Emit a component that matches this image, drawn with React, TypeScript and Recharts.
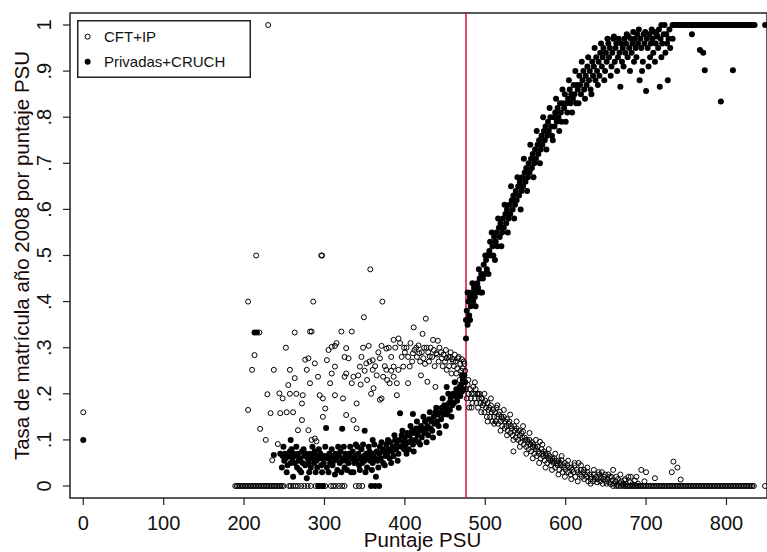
import React from 'react';
import { ScatterChart, Scatter, XAxis, YAxis, ReferenceLine, ReferenceArea, Legend } from 'recharts';

const FONT = '"Liberation Sans", Arial, sans-serif';

const xTicks = [0, 100, 200, 300, 400, 500, 600, 700, 800];
const yTicks = [0, 0.1, 0.2, 0.3, 0.4, 0.5, 0.6, 0.7, 0.8, 0.9, 1];
const yTickLabels = ['0', '.1', '.2', '.3', '.4', '.5', '.6', '.7', '.8', '.9', '1'];
const xDomain: [number, number] = [-16.5, 850.4];
const yDomain: [number, number] = [-0.026, 1.026];
const cutoff = 476;
const seriesNames = ['CFT+IP', 'Privadas+CRUCH'];
const xTitle = 'Puntaje PSU';
const yTitle = 'Tasa de matrícula año 2008 por puntaje PSU';

// CFT+IP (open circles)
const cftCloud: [number, number][] = [
  [0, 0.16], [205, 0.165], [205, 0.4], [210, 0.252], [213, 0.284], [215, 0.5], [219, 0.333], [220, 0.124],
  [227, 0.1], [229, 0.199], [230, 1.0], [233, 0.158], [235, 0.056], [237, 0.252], [242, 0.091], [244, 0.201],
  [245, 0.158], [248, 0.19], [252, 0.3], [253, 0.16], [255, 0.219], [257, 0.252], [257, 0.2], [261, 0.16],
  [263, 0.333], [263, 0.234], [265, 0.2], [267, 0.121], [272, 0.179], [272, 0.143], [273, 0.197], [276, 0.274],
  [278, 0.252], [280, 0.277], [280, 0.121], [282, 0.335], [282, 0.223], [284, 0.335], [284, 0.1], [286, 0.4],
  [288, 0.266], [288, 0.103], [290, 0.097], [292, 0.237], [294, 0.197], [296, 0.5], [297, 0.5], [298, 0.19],
  [298, 0.15], [301, 0.168], [303, 0.273], [305, 0.295], [307, 0.223], [309, 0.302], [309, 0.244], [313, 0.304],
  [313, 0.259], [313, 0.197], [315, 0.31], [321, 0.335], [323, 0.19], [325, 0.28], [325, 0.237], [327, 0.299],
  [327, 0.244], [327, 0.154], [330, 0.277], [334, 0.335], [334, 0.223], [336, 0.237], [336, 0.143], [340, 0.179],
  [340, 0.125], [342, 0.24], [344, 0.259], [345, 0.22], [346, 0.28], [348, 0.3], [349, 0.366], [350, 0.25],
  [352, 0.266], [353, 0.23], [355, 0.304], [356, 0.27], [357, 0.47], [358, 0.2], [360, 0.273], [360, 0.252],
  [361, 0.212], [363, 0.26], [365, 0.24], [367, 0.29], [369, 0.277], [369, 0.187], [371, 0.304], [371, 0.19],
  [372, 0.4], [373, 0.237], [375, 0.26], [377, 0.298], [377, 0.252], [378, 0.23], [380, 0.3], [381, 0.223],
  [383, 0.28], [383, 0.25], [386, 0.317], [386, 0.259], [386, 0.237], [388, 0.3], [390, 0.197], [390, 0.223],
  [392, 0.32], [392, 0.252], [394, 0.31], [396, 0.28], [398, 0.259], [399, 0.3], [400, 0.29], [402, 0.3],
  [404, 0.28], [404, 0.223], [406, 0.259], [407, 0.31], [409, 0.27], [410, 0.288], [411, 0.344], [412, 0.295],
  [414, 0.3], [415, 0.28], [417, 0.305], [418, 0.288], [419, 0.27], [420, 0.24], [421, 0.29], [422, 0.33],
  [423, 0.277], [424, 0.3], [425, 0.265], [426, 0.363], [427, 0.3], [428, 0.226], [429, 0.29], [430, 0.27],
  [431, 0.281], [432, 0.3], [434, 0.28], [435, 0.317], [436, 0.295], [437, 0.26], [438, 0.215], [439, 0.288],
  [440, 0.285], [441, 0.315], [442, 0.27], [443, 0.3], [445, 0.29], [446, 0.277], [447, 0.26], [448, 0.285],
  [450, 0.27], [451, 0.295], [452, 0.277], [452, 0.252], [454, 0.28], [455, 0.26], [456, 0.28], [457, 0.29],
  [458, 0.244], [459, 0.275], [460, 0.27], [461, 0.26], [462, 0.285], [463, 0.27], [464, 0.244], [465, 0.255],
  [466, 0.277], [467, 0.28], [468, 0.23], [469, 0.265], [470, 0.25], [471, 0.275], [472, 0.255], [473, 0.27],
  [474, 0.265], [475, 0.25],
];

const cftDecay: [number, number][] = [
  [476, 0.21], [477, 0.19], [478, 0.22], [479, 0.2], [480, 0.17], [481, 0.21], [482, 0.19], [483, 0.2],
  [484, 0.18], [485, 0.215], [486, 0.2], [487, 0.19], [488, 0.21], [489, 0.18], [490, 0.2], [491, 0.17],
  [492, 0.19], [493, 0.2], [494, 0.18], [495, 0.16], [496, 0.19], [497, 0.175], [498, 0.18], [499, 0.16],
  [500, 0.185], [501, 0.17], [502, 0.15], [503, 0.18], [504, 0.165], [505, 0.17], [506, 0.15], [507, 0.175],
  [508, 0.16], [509, 0.14], [510, 0.165], [511, 0.15], [512, 0.16], [513, 0.14], [514, 0.17], [515, 0.15],
  [516, 0.135], [517, 0.155], [518, 0.161], [519, 0.14], [520, 0.15], [521, 0.13], [522, 0.145], [523, 0.15],
  [524, 0.125], [525, 0.14], [526, 0.13], [527, 0.145], [528, 0.12], [529, 0.135], [530, 0.14], [531, 0.115],
  [532, 0.13], [533, 0.125], [534, 0.11], [535, 0.075], [536, 0.13], [537, 0.12], [538, 0.105], [539, 0.125],
  [540, 0.115], [541, 0.1], [542, 0.12], [543, 0.11], [544, 0.095], [545, 0.115], [546, 0.105], [547, 0.118],
  [548, 0.09], [549, 0.105], [550, 0.1], [551, 0.085], [552, 0.1], [553, 0.095], [554, 0.08], [555, 0.1],
  [556, 0.09], [557, 0.075], [558, 0.095], [559, 0.085], [560, 0.09], [561, 0.07], [562, 0.085], [563, 0.08],
  [564, 0.065], [565, 0.085], [566, 0.075], [567, 0.07], [568, 0.096], [569, 0.06], [570, 0.08], [571, 0.07],
  [572, 0.065], [573, 0.075], [574, 0.055], [575, 0.07], [576, 0.065], [577, 0.05], [578, 0.07], [579, 0.06],
  [580, 0.065], [581, 0.055], [582, 0.045], [583, 0.06], [584, 0.055], [585, 0.05], [586, 0.06], [587, 0.04],
  [588, 0.055], [589, 0.05], [590, 0.045], [591, 0.055], [592, 0.035], [593, 0.05], [594, 0.045], [595, 0.056],
  [596, 0.03], [597, 0.045], [598, 0.04], [599, 0.05], [600, 0.035], [602, 0.045], [603, 0.03], [604, 0.04],
  [606, 0.025], [607, 0.04], [608, 0.035], [610, 0.03], [611, 0.045], [612, 0.02], [614, 0.035], [615, 0.03],
  [616, 0.05], [618, 0.025], [619, 0.035], [620, 0.02], [622, 0.03], [623, 0.015], [624, 0.025], [626, 0.02],
  [627, 0.03], [628, 0.01], [630, 0.025], [631, 0.015], [632, 0.02], [634, 0.01], [635, 0.025], [636, 0.015],
  [638, 0.02], [639, 0.008], [640, 0.015], [642, 0.025], [643, 0.01], [644, 0.018], [646, 0.005], [647, 0.015],
  [648, 0.02], [650, 0.01], [651, 0.005], [652, 0.015], [654, 0.008], [655, 0.02], [656, 0.004], [658, 0.012],
  [659, 0.035], [660, 0.005], [662, 0.01], [664, 0.003], [665, 0.015], [667, 0.006], [669, 0.01], [671, 0.004],
  [673, 0.012], [675, 0.005], [678, 0.02], [680, 0.008], [683, 0.004], [686, 0.012], [690, 0.005], [694, 0.035],
  [698, 0.01], [700, 0.03], [711, 0.017], [732, 0.03], [734, 0.053], [739, 0.04], [743, 0.014],
];

const cftDecaySpread: [number, number][] = [
  [479, 0.23], [483, 0.17], [487, 0.225], [491, 0.2], [495, 0.19], [499, 0.2], [503, 0.14], [507, 0.19],
  [511, 0.135], [515, 0.175], [519, 0.12], [523, 0.165], [527, 0.11], [531, 0.155], [535, 0.1], [539, 0.14],
  [543, 0.085], [547, 0.13], [551, 0.07], [555, 0.115], [559, 0.06], [563, 0.1], [567, 0.05], [571, 0.09],
  [575, 0.04], [579, 0.08], [583, 0.035], [587, 0.07], [591, 0.025], [595, 0.065], [599, 0.02], [603, 0.055],
  [607, 0.015], [611, 0.05], [615, 0.01], [619, 0.045], [623, 0.035], [627, 0.04], [631, 0.005], [635, 0.035],
  [641, 0.03], [645, 0.03], [649, 0.025], [653, 0.025], [657, 0.02], [663, 0.02], [668, 0.025], [674, 0.015],
  [681, 0.02], [688, 0.02],
];

const cftZeroX: number[] = [
  189, 191, 193, 195, 197, 199, 201, 203, 205, 207, 209, 211, 213, 215, 217, 219, 221, 223, 225, 227, 229,
  231, 233, 235, 237, 239, 241, 243, 245, 247, 249, 256, 258, 261, 264, 267, 271, 275, 279, 283, 289, 292,
  295, 298, 301, 308, 311, 314, 318, 322, 325, 339, 343, 347,
  659, 663, 666, 669, 672, 674, 676, 678, 680, 682, 684, 686, 688, 690, 692, 694, 696, 698, 700, 702, 704,
  706, 708, 710, 712, 714, 716, 718, 720, 722, 724, 726, 728, 730, 732, 734, 736, 738, 740, 742, 744, 746,
  748, 750, 752, 754, 756, 758, 760, 762, 764, 766, 768, 770, 772, 774, 776, 778, 780, 782, 784, 786, 788,
  790, 792, 794, 796, 798, 800, 802, 804, 806, 808, 810, 812, 814, 816, 818, 820, 822, 824, 826, 828, 830,
  832, 834, 848,
];

// Privadas+CRUCH (filled circles)
const privLow: [number, number][] = [
  [0, 0.1], [213, 0.333], [216, 0.333], [237, 0.067], [293, 0], [298, 0], [358, 0], [363, 0], [368, 0],
  [245, 0.07], [247, 0.04], [248, 0.065], [250, 0.055], [251, 0.07], [252, 0.06], [254, 0.045], [255, 0.07],
  [256, 0.065], [258, 0.05], [258, 0.1], [259, 0.08], [260, 0.06], [261, 0.02], [262, 0.07], [263, 0.05],
  [264, 0.065], [266, 0.04], [267, 0.07], [268, 0.055], [270, 0.06], [271, 0.03], [272, 0.075], [273, 0.05],
  [275, 0.065], [276, 0.045], [277, 0.07], [278, 0.017], [279, 0.06], [280, 0.05], [282, 0.07], [283, 0.04],
  [284, 0.06], [286, 0.065], [287, 0.05], [288, 0.075], [290, 0.055], [291, 0.04], [292, 0.065], [294, 0.06],
  [295, 0.07], [296, 0.045], [298, 0.06], [299, 0.05], [300, 0.065], [302, 0.126], [303, 0.04], [304, 0.06],
  [306, 0.07], [307, 0.05], [308, 0.06], [310, 0.045], [311, 0.065], [312, 0.055], [314, 0.07], [315, 0.06],
  [316, 0.035], [318, 0.065], [319, 0.05], [320, 0.075], [322, 0.124], [322, 0.055], [323, 0.06], [325, 0.04],
  [326, 0.07], [327, 0.055], [329, 0.065], [330, 0.05], [331, 0.07], [333, 0.03], [334, 0.06], [335, 0.075],
  [337, 0.05], [338, 0.065], [339, 0.09], [340, 0.055], [342, 0.07], [343, 0.045], [345, 0.06], [346, 0.08],
  [347, 0.05], [349, 0.065], [350, 0.12], [350, 0.055], [352, 0.07], [353, 0.04], [354, 0.06], [356, 0.075],
  [357, 0.055], [358, 0.065], [360, 0.1], [360, 0.05], [361, 0.07], [363, 0.06], [364, 0.02], [365, 0.075],
  [366, 0.055], [368, 0.07], [369, 0.085], [370, 0.06], [372, 0.075], [373, 0.05], [374, 0.08], [376, 0.065],
  [377, 0.09], [378, 0.07], [380, 0.08], [381, 0.06], [382, 0.095], [384, 0.075], [385, 0.085], [386, 0.065],
  [388, 0.1], [389, 0.08], [390, 0.09], [392, 0.07], [393, 0.1], [394, 0.158], [395, 0.085], [396, 0.11],
  [398, 0.095], [399, 0.08], [400, 0.105], [401, 0.09], [403, 0.115], [404, 0.095], [405, 0.08], [406, 0.11],
  [408, 0.1], [409, 0.12], [410, 0.156], [410, 0.09], [412, 0.115], [413, 0.1], [414, 0.125], [416, 0.11],
  [417, 0.095], [418, 0.12], [420, 0.13], [421, 0.105], [422, 0.125], [424, 0.115], [425, 0.14], [426, 0.12],
  [428, 0.13], [429, 0.11], [430, 0.145], [432, 0.125], [433, 0.14], [434, 0.12], [436, 0.15], [437, 0.135],
  [438, 0.16], [440, 0.14], [441, 0.155], [442, 0.13], [444, 0.16], [445, 0.145], [446, 0.17], [448, 0.155],
  [449, 0.175], [450, 0.16], [452, 0.215], [452, 0.17], [453, 0.155], [455, 0.18], [456, 0.165], [457, 0.19],
  [459, 0.175], [460, 0.2], [461, 0.18], [463, 0.195], [464, 0.21], [465, 0.185], [466, 0.2], [468, 0.215],
  [469, 0.195], [470, 0.22], [471, 0.205], [472, 0.23], [473, 0.21], [474, 0.24], [475, 0.225],
];

const privLowSpread: [number, number][] = [
  [249, 0.085], [253, 0.03], [257, 0.075], [265, 0.085], [269, 0.035], [274, 0.08], [281, 0.03], [285, 0.085],
  [289, 0.03], [293, 0.08], [297, 0.03], [301, 0.085], [305, 0.03], [309, 0.08], [313, 0.025], [317, 0.085],
  [321, 0.03], [324, 0.085], [328, 0.035], [332, 0.085], [336, 0.03], [341, 0.085], [344, 0.035], [348, 0.09],
  [351, 0.03], [355, 0.085], [359, 0.035], [362, 0.09], [367, 0.04], [371, 0.095], [375, 0.045], [379, 0.1],
  [383, 0.05], [387, 0.11], [391, 0.055], [397, 0.12], [402, 0.07], [407, 0.13], [411, 0.075], [415, 0.14],
  [419, 0.09], [423, 0.15], [427, 0.095], [431, 0.16], [435, 0.105], [439, 0.17], [443, 0.115], [447, 0.19],
  [451, 0.13], [454, 0.2], [458, 0.15], [462, 0.225], [467, 0.17], [471, 0.24],
];

const privRise: [number, number][] = [
  [476, 0.32], [476, 0.36], [477, 0.38], [478, 0.35], [479, 0.4], [480, 0.37], [481, 0.41], [482, 0.39],
  [483, 0.42], [485, 0.4], [486, 0.43], [487, 0.41], [489, 0.42], [490, 0.44], [491, 0.43], [493, 0.45],
  [494, 0.42], [495, 0.46], [497, 0.45], [498, 0.48], [499, 0.46], [501, 0.49], [502, 0.47], [503, 0.5],
  [505, 0.51], [506, 0.53], [507, 0.5], [509, 0.52], [510, 0.5], [511, 0.54], [513, 0.53], [514, 0.55],
  [515, 0.52], [517, 0.56], [518, 0.54], [519, 0.57], [521, 0.55], [522, 0.58], [523, 0.56], [525, 0.59],
  [526, 0.57], [527, 0.6], [529, 0.58], [530, 0.61], [531, 0.59], [533, 0.62], [534, 0.6], [535, 0.63],
  [537, 0.61], [538, 0.64], [539, 0.62], [541, 0.65], [542, 0.63], [543, 0.66], [545, 0.64], [546, 0.67],
  [547, 0.65], [549, 0.68], [550, 0.66], [551, 0.69], [553, 0.67], [554, 0.7], [555, 0.68], [557, 0.71],
  [558, 0.69], [559, 0.72], [561, 0.7], [562, 0.73], [563, 0.71], [565, 0.74], [566, 0.72], [567, 0.75],
  [569, 0.73], [570, 0.76], [571, 0.74], [573, 0.77], [574, 0.75], [575, 0.78], [577, 0.76], [578, 0.79],
  [579, 0.77], [581, 0.8], [582, 0.78], [583, 0.76], [585, 0.8], [586, 0.78], [587, 0.81], [589, 0.79],
  [590, 0.82], [591, 0.8], [593, 0.83], [594, 0.81], [595, 0.79], [597, 0.83], [598, 0.82], [599, 0.85],
  [601, 0.83], [602, 0.81], [603, 0.84], [605, 0.86], [606, 0.83], [607, 0.85], [609, 0.84], [610, 0.87],
  [611, 0.85], [613, 0.83], [614, 0.87], [615, 0.86], [617, 0.89], [618, 0.87], [619, 0.85], [621, 0.88],
  [622, 0.9], [623, 0.86], [625, 0.89], [626, 0.87], [627, 0.91], [629, 0.88], [630, 0.9], [631, 0.86],
  [633, 0.92], [634, 0.89], [635, 0.91], [637, 0.88], [638, 0.93], [639, 0.9], [641, 0.92], [642, 0.89],
  [643, 0.94], [645, 0.91], [646, 0.93], [647, 0.95], [649, 0.9], [650, 0.94], [651, 0.92], [653, 0.96],
  [654, 0.93], [655, 0.95], [657, 0.91], [658, 0.94], [659, 0.97], [661, 0.92], [662, 0.95], [663, 0.96],
  [665, 0.93], [666, 0.97], [667, 0.94], [668, 0.866], [669, 0.96], [670, 0.92], [671, 0.95], [673, 0.97],
  [674, 0.94], [675, 0.96], [677, 0.93], [678, 0.975], [679, 0.95], [681, 0.97], [682, 0.94], [683, 0.96],
  [685, 0.92], [686, 0.97], [687, 0.95], [689, 0.98], [690, 0.96], [692, 0.88], [693, 0.97], [694, 0.95],
  [696, 0.92], [697, 0.98], [698, 0.96], [700, 0.857], [701, 0.97], [702, 0.95], [704, 0.98], [705, 0.93],
  [706, 0.96], [708, 0.97], [709, 0.94], [710, 0.985], [712, 0.96], [713, 0.98], [715, 0.95], [716, 0.99],
  [717, 0.866], [718, 0.97], [720, 0.96], [722, 0.98], [724, 0.94], [725, 0.98], [727, 0.88], [728, 0.97],
  [730, 0.95], [733, 0.97], [757, 0.98], [767, 0.946], [771, 0.94], [773, 0.902], [793, 0.834], [808, 0.902],
];

const privRiseSpread: [number, number][] = [
  [478, 0.42], [481, 0.36], [484, 0.44], [488, 0.39], [492, 0.47], [496, 0.42], [500, 0.5], [504, 0.46],
  [508, 0.55], [512, 0.49], [516, 0.58], [520, 0.52], [524, 0.61], [528, 0.55], [532, 0.65], [536, 0.58],
  [540, 0.67], [544, 0.6], [548, 0.71], [552, 0.64], [556, 0.74], [560, 0.67], [564, 0.77], [568, 0.7],
  [572, 0.8], [576, 0.73], [580, 0.82], [584, 0.75], [588, 0.84], [592, 0.77], [596, 0.86], [600, 0.79],
  [604, 0.88], [608, 0.81], [612, 0.9], [616, 0.83], [620, 0.92], [624, 0.84], [628, 0.93], [632, 0.85],
  [636, 0.95], [640, 0.87], [644, 0.96], [648, 0.88], [652, 0.97], [656, 0.89], [660, 0.975], [664, 0.9],
  [672, 0.91], [676, 0.98], [680, 0.9], [684, 0.985], [688, 0.93], [691, 0.99], [695, 0.9], [699, 0.985],
  [703, 0.91], [707, 0.99], [711, 0.92], [714, 0.975], [719, 0.93], [726, 0.96], [729, 0.99],
];

const privOneX: number[] = [
  719, 723, 733, 735, 737, 739, 741, 743, 745, 747, 749, 751, 753, 755, 757, 759, 761, 763, 765, 767, 769,
  771, 773, 775, 777, 779, 781, 783, 785, 787, 789, 791, 793, 795, 797, 799, 801, 803, 805, 807, 809, 811,
  813, 815, 817, 819, 821, 823, 825, 827, 829, 831, 833, 835, 848,
];

const toPoints = (pairs: [number, number][]) => pairs.map(([x, y]) => ({ x, y }));
const cftData = [
  ...toPoints(cftCloud),
  ...toPoints(cftDecay),
  ...toPoints(cftDecaySpread),
  ...cftZeroX.map((x) => ({ x, y: 0 })),
];
const privData = [
  ...toPoints(privLow),
  ...toPoints(privLowSpread),
  ...toPoints(privRise),
  ...toPoints(privRiseSpread),
  ...privOneX.map((x) => ({ x, y: 1 })),
];

const OpenDot = (p: any) => (
  <circle cx={p.cx} cy={p.cy} r={2.5} fill="none" stroke="#000" strokeWidth={1} />
);
const FilledDot = (p: any) => <circle cx={p.cx} cy={p.cy} r={3} fill="#000" />;

const YTick = (p: any) => {
  const idx = yTicks.indexOf(p.payload.value);
  const label = idx >= 0 ? yTickLabels[idx] : String(p.payload.value);
  return (
    <text
      x={p.x}
      y={p.y}
      transform={`rotate(-90, ${p.x}, ${p.y})`}
      textAnchor="middle"
      fontSize={20}
      fontFamily={FONT}
      fill="#111"
    >
      {label}
    </text>
  );
};

const YTitle = (p: any) => {
  const vb = p.viewBox || { x: 0, y: 13, width: 70, height: 485 };
  const cx = vb.x + 29;
  const cy = vb.y + vb.height / 2;
  return (
    <text x={cx} y={cy} transform={`rotate(-90, ${cx}, ${cy})`} textAnchor="middle" fontSize={20.5} fontFamily={FONT} fill="#1a0a0a">
      {yTitle}
    </text>
  );
};

const XTitle = (p: any) => {
  const vb = p.viewBox || { x: 70, y: 498, width: 697, height: 54 };
  return (
    <text x={vb.x + vb.width / 2 + 4} y={vb.y + 49} textAnchor="middle" fontSize={20.5} fontFamily={FONT} fill="#1a0a0a">
      {xTitle}
    </text>
  );
};

const LegendBox = () => (
  <svg width={175} height={59} style={{ display: 'block' }}>
    <rect x={0.75} y={0.75} width={172.5} height={56.5} fill="#fff" stroke="#222" strokeWidth={1.5} />
    <circle cx={10.6} cy={16.7} r={2.5} fill="none" stroke="#000" strokeWidth={1} />
    <text x={27} y={21.7} fontSize={15} fontFamily={FONT} fill="#111">{seriesNames[0]}</text>
    <circle cx={10.6} cy={41.7} r={3} fill="#000" />
    <text x={27} y={46.5} fontSize={15} fontFamily={FONT} fill="#111">{seriesNames[1]}</text>
  </svg>
);

export default function App() {
  return (
    <div style={{ position: 'absolute', left: 0, top: 0, background: '#fff' }}>
      <ScatterChart width={767} height={552} margin={{ top: 13, right: 0, bottom: 0, left: 0 }}>
        <XAxis
          type="number"
          dataKey="x"
          domain={xDomain}
          ticks={xTicks}
          allowDataOverflow
          axisLine={false}
          tickLine={{ stroke: '#222', strokeWidth: 1.2 }}
          tickSize={7}
          tickMargin={11}
          height={54}
          tick={{ fontSize: 20, fontFamily: FONT, fill: '#111' }}
          label={<XTitle />}
        />
        <YAxis
          type="number"
          dataKey="y"
          domain={yDomain}
          ticks={yTicks}
          allowDataOverflow
          axisLine={false}
          tickLine={{ stroke: '#222', strokeWidth: 1.2 }}
          tickSize={7}
          tickMargin={12}
          width={70}
          tick={<YTick />}
          label={<YTitle />}
        />
        <ReferenceArea
          x1={xDomain[0]}
          x2={xDomain[1]}
          y1={yDomain[0]}
          y2={yDomain[1]}
          fill="none"
          fillOpacity={0}
          stroke="#222"
          strokeWidth={1.5}
          ifOverflow="visible"
        />
        <Scatter name={seriesNames[0]} data={cftData} shape={OpenDot} isAnimationActive={false} />
        <Scatter name={seriesNames[1]} data={privData} shape={FilledDot} isAnimationActive={false} />
        <ReferenceLine x={cutoff} stroke="#d81b45" strokeWidth={1.6} ifOverflow="visible" />
        <Legend
          layout="vertical"
          align="center"
          verticalAlign="middle"
          content={<LegendBox />}
          wrapperStyle={{ left: 77, top: 20, width: 175, height: 59 }}
        />
      </ScatterChart>
    </div>
  );
}
